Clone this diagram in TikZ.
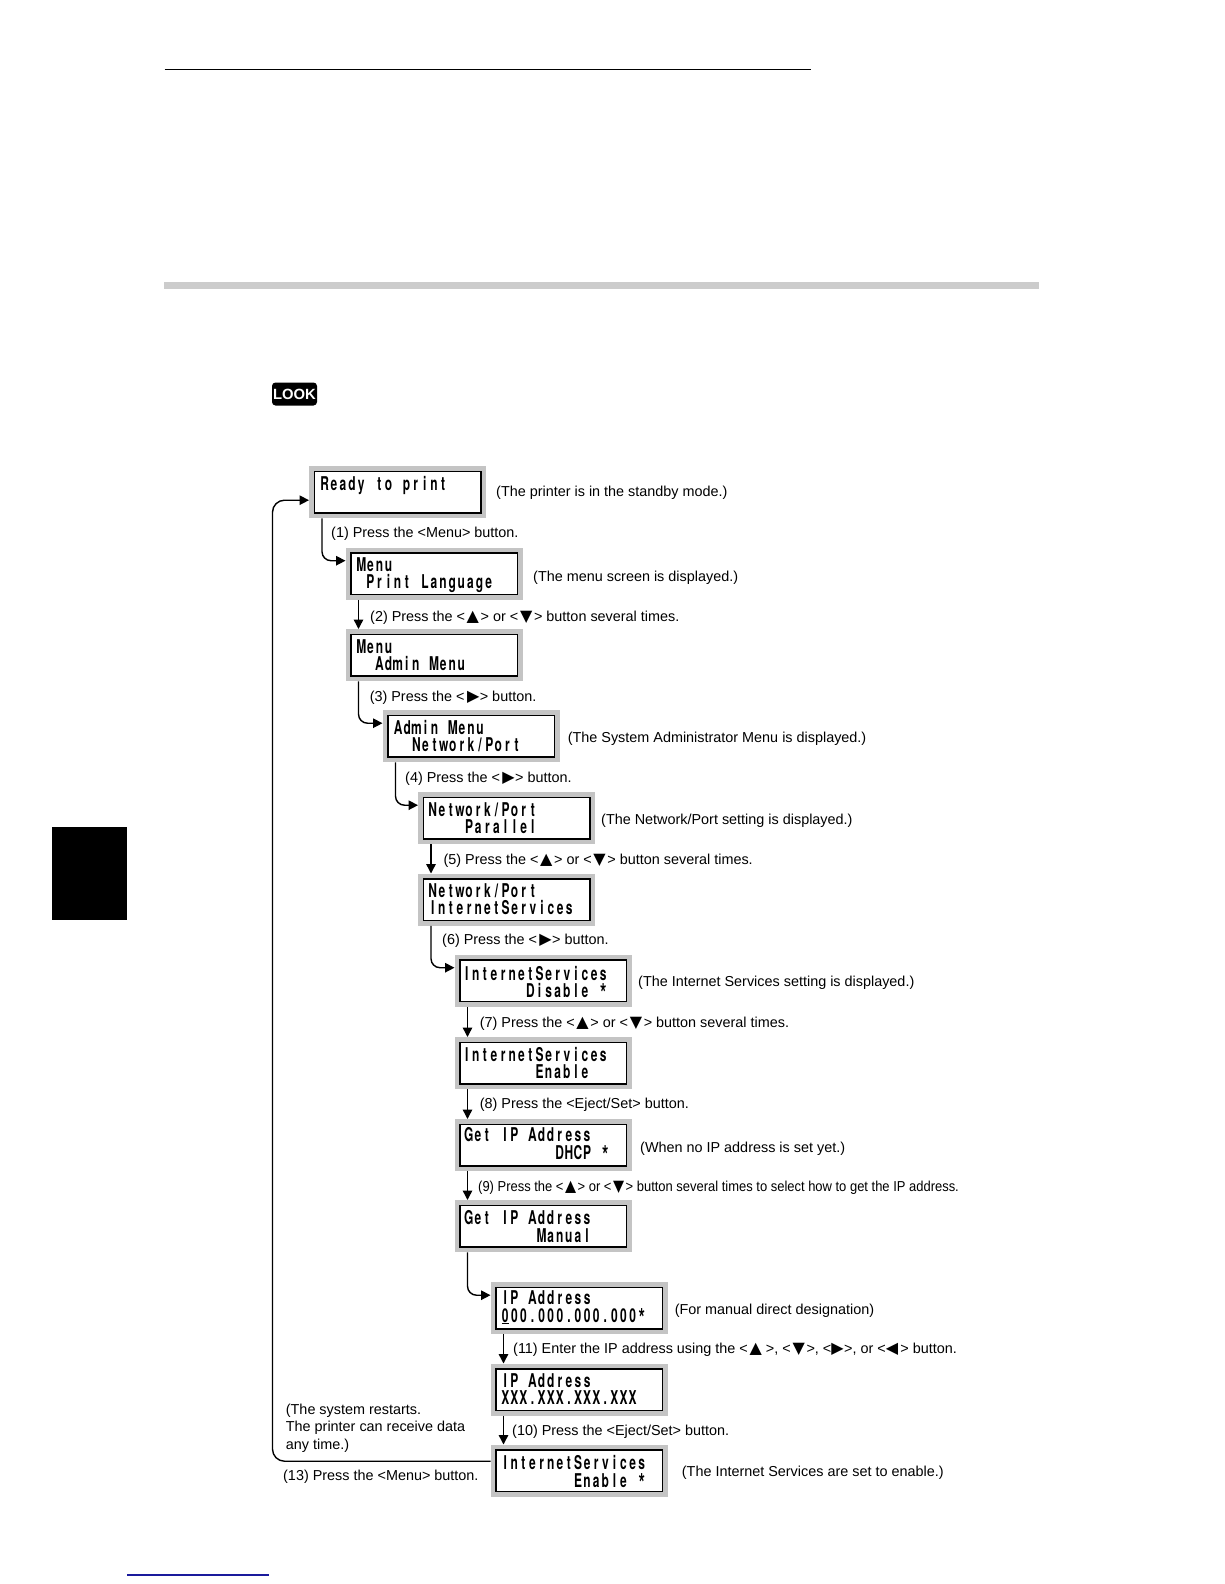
\documentclass[tikz,border=0pt]{standalone}
\usepackage{fontspec}
\usetikzlibrary{arrows.meta}
\setmainfont{Liberation Sans}
\newfontfamily\lcdfont[FakeStretch=0.63]{TeX Gyre Heros}
\newfontfamily\symfont{DejaVu Sans}
\definecolor{lcdgray}{HTML}{C4C4C4}
\definecolor{bandgray}{HTML}{CCCCCC}
\definecolor{footblue}{HTML}{1A1A9C}
\makeatletter
\newcommand\lcdline[1]{\@tfor\lcd@c:=#1\do{\makebox[9.1pt][c]{\lcd@c}}}
\makeatother
\newcommand\upk{\kern1.7pt{\symfont\fontsize{16pt}{16pt}\selectfont▲}\kern1.7pt}
\newcommand\dnk{\kern1.7pt{\symfont\fontsize{16pt}{16pt}\selectfont▼}\kern1.7pt}
\newcommand\rtk{{\symfont\fontsize{16pt}{16pt}\selectfont▶}\kern0.5pt}
\newcommand\lfk{{\symfont\fontsize{16pt}{16pt}\selectfont◀}}
\newcommand\lcdstar{\raisebox{-5pt}{\fontsize{26pt}{26pt}\selectfont *}}
\tikzset{
  x=1pt,y=-1pt,
  lcdouter/.style={rectangle,fill=lcdgray,minimum width=176.8pt,minimum height=52pt,inner sep=0pt,anchor=north west},
  lcdinner/.style={rectangle,draw=black,line width=1.4pt,fill=white,minimum width=166.5pt,minimum height=41.5pt,inner sep=0pt},
  lcdtxt/.style={anchor=base west,inner sep=0pt,font=\lcdfont\bfseries\fontsize{19pt}{19pt}\selectfont},
  capt/.style={anchor=base west,inner sep=0pt,font=\fontsize{14.4pt}{17.6pt}\selectfont},
  flow/.style={draw=black,line width=1.4pt,-{Triangle[length=9.5pt,width=9.5pt]}},
  turnflow/.style={flow,rounded corners=9pt},
}
% name, x, y, line 1, line 2, text x offset, line 1 y offset, line 2 y offset
\newcommand\lcdb[8]{%
  \node[lcdouter] (#1) at (#2,#3) {};
  \node[lcdinner] (#1i) at (#1.center) {};
  \node[lcdtxt] (#1a) at (#2+#6,#3+#7) {\lcdline{#4}};
  \node[lcdtxt] (#1b) at (#2+#6,#3+#8) {\lcdline{#5}};
}
\begin{document}
\begin{tikzpicture}
\useasboundingbox (0,0) rectangle (1224,1584);
\fill[white] (0,0) rectangle (1224,1584);
% page furniture
\draw[black,line width=0.8pt] (164.5,69.5) -- (811,69.5);
\fill[bandgray] (164,282) rectangle (1039,289);
\fill[black] (52,827) rectangle (127,920);
\draw[footblue,line width=1.2pt] (127,1575) -- (269,1575);
\node[rectangle,rounded corners=3.5pt,fill=black,text=white,minimum width=45pt,minimum height=23pt,inner sep=0pt,font=\bfseries\fontsize{14.8pt}{16pt}\selectfont] (look) at (294.5,394) {LOOK};
% boxes
\lcdb{b1}{309}{466}{Ready~to~print}{~}{11}{24}{41}
\lcdb{b2}{345.5}{547.5}{Menu}{~Print~Language}{11}{24}{41}
\lcdb{b3}{345.5}{629}{Menu}{~~Admin~Menu}{11}{24}{41}
\lcdb{b4}{382.5}{710}{Admin~Menu}{~~Network/Port}{11}{24}{41}
\lcdb{b5}{418}{792}{Network/Port}{~~~~Parallel}{10}{24}{41}
\lcdb{b6}{418}{873.5}{Network/Port}{InternetServices}{10}{24}{41}
\lcdb{b7}{454.5}{954.5}{InternetServices}{~~~~~~~Disable~\lcdstar}{7.5}{26}{43}
\lcdb{b8}{454.5}{1037}{InternetServices}{~~~~~~~~Enable}{7.5}{24}{41}
\lcdb{b9}{454.5}{1119}{Get~IP~Address}{~~~~~~~~~~DHCP~\lcdstar}{9.5}{22}{40}
\lcdb{b10}{454.5}{1200}{Get~IP~Address}{~~~~~~~~Manual}{9.5}{24}{42}
\lcdb{b11}{490.5}{1282}{IP~Address}{{\underline{0}}00.000.000.000\lcdstar}{10}{22}{40}
\lcdb{b12}{490.5}{1363.5}{IP~Address}{XXX.XXX.XXX.XXX}{10}{24}{41}
\lcdb{b13}{490.5}{1444.5}{InternetServices}{~~~~~~~~Enable~\lcdstar}{10}{25}{43}
% connectors
\coordinate (loop) at (272.5,900);
\draw[turnflow] ([xshift=13pt]b1.south west) |- ([yshift=13pt]b2.west);
\draw[flow] ([xshift=13pt]b2.south west) -- ([xshift=13pt]b3.north west);
\draw[turnflow] ([xshift=13pt]b3.south west) |- ([yshift=13pt]b4.west);
\draw[turnflow] ([xshift=13pt]b4.south west) |- ([yshift=13pt]b5.west);
\draw[flow] ([xshift=13pt]b5.south west) -- ([xshift=13pt]b6.north west);
\draw[turnflow] ([xshift=13pt]b6.south west) |- ([yshift=13pt]b7.west);
\draw[flow] ([xshift=13pt]b7.south west) -- ([xshift=13pt]b8.north west);
\draw[flow] ([xshift=13pt]b8.south west) -- ([xshift=13pt]b9.north west);
\draw[flow] ([xshift=13pt]b9.south west) -- ([xshift=13pt]b10.north west);
\draw[turnflow] ([xshift=13pt]b10.south west) |- ([yshift=13pt]b11.west);
\draw[flow] ([xshift=13pt]b11.south west) -- ([xshift=13pt]b12.north west);
\draw[flow] ([xshift=13pt]b12.south west) -- ([xshift=13pt]b13.north west);
\draw[turnflow,rounded corners=12pt] ([yshift=9.5pt]b13.west) -| (loop) |- ([yshift=-8pt]b1.west);
% captions
\node[capt] (c0) at (496,496.7) {(The printer is in the standby mode.)};
\node[capt] (c1) at (331,537.7) {(1) Press the <Menu> button.};
\node[capt] (c1n) at (533,581) {(The menu screen is displayed.)};
\node[capt] (c2) at (370,621.7) {(2) Press the <\upk> or <\dnk> button several times.};
\node[capt] (c3) at (369.6,701) {(3) Press the <\,\rtk> button.};
\node[capt] (c3n) at (567.6,742) {(The System Administrator Menu is displayed.)};
\node[capt] (c4) at (405,782) {(4) Press the <\,\rtk> button.};
\node[capt] (c4n) at (601,824) {(The Network/Port setting is displayed.)};
\node[capt] (c5) at (443.4,864) {(5) Press the <\upk> or <\dnk> button several times.};
\node[capt] (c6) at (442,944) {(6) Press the <\,\rtk> button.};
\node[capt] (c6n) at (638,986) {(The Internet Services setting is displayed.)};
\node[capt] (c7) at (479.7,1027) {(7) Press the <\upk> or <\dnk> button several times.};
\node[capt] (c8) at (479.7,1108) {(8) Press the <Eject/Set> button.};
\node[capt] (c8n) at (640,1152) {(When no IP address is set yet.)};
\node[capt] (c9) at (478,1191) {\scalebox{0.9}[1]{(9) Press the <\upk> or <\dnk> button several times to select how to get the IP address.}};
\node[capt] (c10n) at (674.6,1314) {(For manual direct designation)};
\node[capt] (c11) at (513,1353.7) {(11) Enter the IP address using the <\upk\,>, <\dnk>, <\rtk>, or <\lfk\,> button.};
\node[capt] (c10) at (512,1435) {(10) Press the <Eject/Set> button.};
\node[capt] (c12a) at (285.7,1414) {(The system restarts.};
\node[capt] (c12b) at (285.7,1431.7) {The printer can receive data};
\node[capt] (c12c) at (285.7,1449) {any time.)};
\node[capt] (c13) at (283,1480) {(13) Press the <Menu> button.};
\node[capt] (c13n) at (681.7,1476) {(The Internet Services are set to enable.)};
\end{tikzpicture}
\end{document}
